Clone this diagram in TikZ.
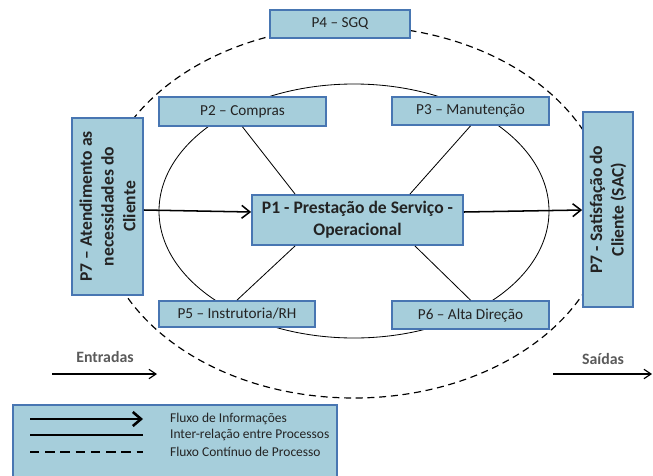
\documentclass[tikz,border=0pt]{standalone}
\usepackage{fontspec}
\setmainfont{Carlito}
\usetikzlibrary{arrows.meta}
\definecolor{boxfill}{RGB}{166,206,219}
\definecolor{boxline}{RGB}{72,118,178}
\definecolor{txtdark}{RGB}{35,35,35}
\definecolor{txtgray}{RGB}{90,90,90}
\begin{document}
\begin{tikzpicture}[x=0.03cm,y=-0.03cm,
    proc/.style={draw=boxline,line width=1.5pt,fill=boxfill,inner sep=1pt,
      align=center,text=txtdark,font=\fontsize{13}{15.5}\selectfont},
    mainproc/.style={proc,font=\fontsize{15}{18.5}\selectfont\bfseries},
    flow/.style={line width=1.3pt,-{Straight Barb[length=7pt,width=11pt]}},
    link/.style={line width=0.7pt},
    cont/.style={line width=1pt,dash pattern=on 6pt off 4pt},
    legtext/.style={anchor=west,text=txtdark,font=\fontsize{11.5}{13.5}\selectfont}]
  \useasboundingbox (0,0) rectangle (653,475);
  % process rings
  \draw[cont] (354,212) circle [x radius=255, y radius=186];
  \draw[link] (354,211) circle [x radius=195, y radius=127];
  % processes
  \node[mainproc,minimum width=6.33cm,minimum height=1.5cm] (p1) at (357.5,220)
    {P1 - Prestação de Serviço -\\Operacional};
  \node[proc,minimum width=5.01cm,minimum height=0.87cm] (p2) at (242.5,111.5) {P2 – Compras};
  \node[proc,minimum width=4.71cm,minimum height=0.84cm] (p3) at (470.5,111) {P3 – Manutenção};
  \node[proc,minimum width=4.2cm,minimum height=0.84cm] (p4) at (340,24) {P4 – SGQ};
  \node[proc,minimum width=4.68cm,minimum height=0.78cm] (p5) at (237,314) {P5 – Instrutoria/RH};
  \node[proc,minimum width=4.71cm,minimum height=0.84cm] (p6) at (470.5,315) {P6 – Alta Direção};
  \node[mainproc,rotate=90,minimum width=5.31cm,minimum height=2.13cm] (p7in) at (107.5,206.5)
    {P7 – Atendimento as\\necessidades do\\Cliente};
  \node[mainproc,rotate=90,minimum width=5.85cm,minimum height=1.5cm] (p7out) at (608,209.5)
    {P7 - Satisfação do\\Cliente (SAC)};
  % relations
  \begin{scope}[link]
    \draw (p2.south) -- ([xshift=1.32cm]p1.north west);
    \draw (p3.south) -- ([xshift=-1.62cm]p1.north east);
    \draw (p5.north) -- ([xshift=1.32cm]p1.south west);
    \draw (p6.north) -- ([xshift=-1.47cm]p1.south east);
  \end{scope}
  \draw[flow] (p7in.south |- 0,210) -- (p1.west |- 0,212);
  \draw[flow] (p1.east |- 0,212) -- (p7out.north |- 0,210);
  % entradas / saidas
  \node[text=txtgray,font=\fontsize{13.5}{16}\selectfont\bfseries] (ent) at (105,357) {Entradas};
  \node[text=txtgray,font=\fontsize{13.5}{16}\selectfont\bfseries] (sai) at (603,359) {Saídas};
  \coordinate (ent1) at (52,374);
  \coordinate (ent2) at (157,374);
  \coordinate (sai1) at (553,374);
  \coordinate (sai2) at (652,374);
  \draw[line width=1pt,-{Straight Barb[length=6pt,width=8pt]}] (ent1) -- (ent2);
  \draw[line width=1pt,-{Straight Barb[length=6pt,width=8pt]}] (sai1) -- (sai2);
  % legenda
  \draw[draw=boxline,line width=1.5pt,fill=boxfill] (13,405) rectangle (337,485);
  \coordinate (l1a) at (30,419);
  \coordinate (l1b) at (143,419);
  \coordinate (l2a) at (30,435);
  \coordinate (l2b) at (143,435);
  \coordinate (l3a) at (30,452);
  \coordinate (l3b) at (143,452);
  \draw[line width=2.2pt,-{Straight Barb[length=7pt,width=12pt]}] (l1a) -- (l1b);
  \draw[line width=1.3pt] (l2a) -- (l2b);
  \draw[line width=1.3pt,dash pattern=on 8pt off 5pt] (l3a) -- (l3b);
  \node[legtext] (leg1) at (166,419) {Fluxo de Informações};
  \node[legtext] (leg2) at (166,435) {Inter-relação entre  Processos};
  \node[legtext] (leg3) at (166,452) {Fluxo Contínuo de Processo};
\end{tikzpicture}
\end{document}
